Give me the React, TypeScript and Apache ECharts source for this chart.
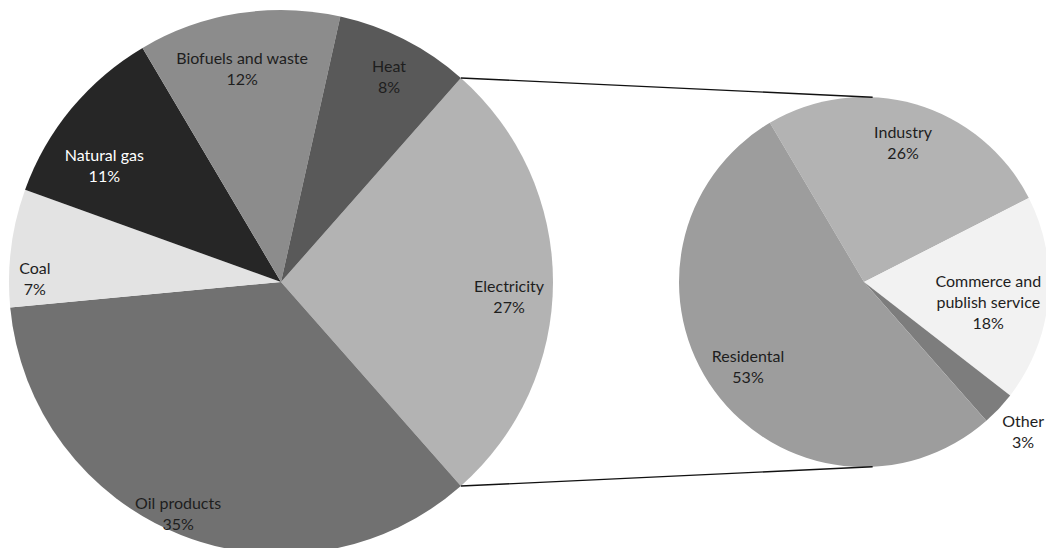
import React, { useEffect, useRef } from "react";
import * as echarts from "echarts";

// ---- data ----
const mainCategories = ["Electricity", "Oil products", "Coal", "Natural gas", "Biofuels and waste", "Heat"];
const mainValues = [27, 35, 7, 11, 12, 8];
const subCategories = ["Industry", "Commerce and publish service", "Other", "Residental"];
const subValues = [26, 18, 3, 53];

// ---- styles / layout ----
const mainColors = ["#b3b3b3", "#717171", "#e3e3e3", "#262626", "#8c8c8c", "#595959"];
const mainLabelColors = ["#1e1e1e", "#1e1e1e", "#1e1e1e", "#ffffff", "#1e1e1e", "#1e1e1e"];
const subColors = ["#b3b3b3", "#f2f2f2", "#7d7d7d", "#9d9d9d"];
// [radius fraction, angle offset in degrees] for each label
const mainLabelPlace = [[0.84, -3.5], [0.93, -2.4], [0.905, 6.2], [0.78, 6], [0.8, 1.3], [0.855, -0.7]];
const subLabelPlace = [[0.785, 0.6], [0.68, -3.6], [1.18, 0], [0.775, 0]];

const W = 1046;
const H = 548;
const C1 = [281, 282];
const R1 = 272;
const C2 = [864, 282];
const R2 = 185;

function sum(a: number[]) {
  return a.reduce((s, v) => s + v, 0);
}

function midAngles(values: number[], start: number) {
  const total = sum(values);
  let a = start;
  return values.map((v) => {
    const span = (v / total) * 360;
    const m = a - span / 2;
    a -= span;
    return m;
  });
}

function wrapName(name: string) {
  if (name.length > 20) {
    const words = name.split(" ");
    const half = Math.ceil(words.length / 2);
    return words.slice(0, half).join(" ") + "\n" + words.slice(half).join(" ");
  }
  return name;
}

export default function App() {
  const ref = useRef<HTMLDivElement>(null);

  useEffect(() => {
    document.body.style.margin = "0";
    const chart = echarts.init(ref.current as HTMLDivElement, undefined, { renderer: "svg" });

    const mainStart = ((mainValues[0] / sum(mainValues)) * 360) / 2;
    const mainSpan = (mainValues[0] / sum(mainValues)) * 360;
    const subStart = 27 + (subValues[0] / sum(subValues)) * 360;

    const mainMids = midAngles(mainValues, mainStart);
    const subMids = midAngles(subValues, subStart);

    const place = (c: number[], r: number, mids: number[], pl: number[][], i: number) => {
      const a = ((mids[i] + pl[i][1]) * Math.PI) / 180;
      const f = pl[i][0];
      return {
        x: c[0] + r * f * Math.cos(a),
        y: c[1] - r * f * Math.sin(a),
        align: "center",
        verticalAlign: "middle",
      };
    };

    const edge = (deg: number) => {
      const a = (deg * Math.PI) / 180;
      return [C1[0] + R1 * Math.cos(a), C1[1] - R1 * Math.sin(a)];
    };
    const tangent = (p: number[], sign: number) => {
      const dx = p[0] - C2[0];
      const dy = p[1] - C2[1];
      const d = Math.sqrt(dx * dx + dy * dy);
      const th = Math.atan2(dy, dx);
      const phi = Math.acos(R2 / d);
      const t = th + sign * phi;
      return [C2[0] + R2 * Math.cos(t), C2[1] + R2 * Math.sin(t)];
    };
    const pTop = edge(mainStart);
    const pBot = edge(mainStart - mainSpan);
    const tTop = tangent(pTop, 1);
    const tBot = tangent(pBot, -1);

    const labelStyle = {
      show: true,
      position: "inside",
      color: "#1e1e1e",
      fontFamily: "Lato, 'Open Sans', sans-serif",
      fontSize: 16,
      lineHeight: 21,
      align: "center",
      formatter: (p: any) => wrapName(p.name) + "\n" + p.value + "%",
    };

    chart.setOption({
      animation: false,
      backgroundColor: "#ffffff",
      series: [
        {
          type: "pie",
          center: C1,
          radius: [0, R1],
          startAngle: mainStart,
          clockwise: true,
          silent: true,
          label: labelStyle,
          labelLine: { show: false },
          labelLayout: (p: any) => place(C1, R1, mainMids, mainLabelPlace, p.dataIndex),
          itemStyle: { borderWidth: 0 },
          emphasis: { disabled: true },
          data: mainCategories.map((n, i) => ({
            name: n,
            value: mainValues[i],
            itemStyle: { color: mainColors[i] },
            label: { color: mainLabelColors[i] },
          })),
        },
        {
          type: "pie",
          center: C2,
          radius: [0, R2],
          startAngle: subStart,
          clockwise: true,
          silent: true,
          label: labelStyle,
          labelLine: { show: false },
          labelLayout: (p: any) => place(C2, R2, subMids, subLabelPlace, p.dataIndex),
          itemStyle: { borderWidth: 0 },
          emphasis: { disabled: true },
          data: subCategories.map((n, i) => ({
            name: n,
            value: subValues[i],
            itemStyle: { color: subColors[i] },
          })),
        },
      ],
      graphic: [
        {
          type: "line",
          silent: true,
          z: 10,
          shape: { x1: pTop[0], y1: pTop[1], x2: tTop[0], y2: tTop[1] },
          style: { stroke: "#111111", lineWidth: 1.4 },
        },
        {
          type: "line",
          silent: true,
          z: 10,
          shape: { x1: pBot[0], y1: pBot[1], x2: tBot[0], y2: tBot[1] },
          style: { stroke: "#111111", lineWidth: 1.4 },
        },
      ],
    });

    return () => {
      chart.dispose();
    };
  }, []);

  return <div ref={ref} style={{ width: W, height: H, position: "absolute", left: 0, top: 0 }} />;
}
